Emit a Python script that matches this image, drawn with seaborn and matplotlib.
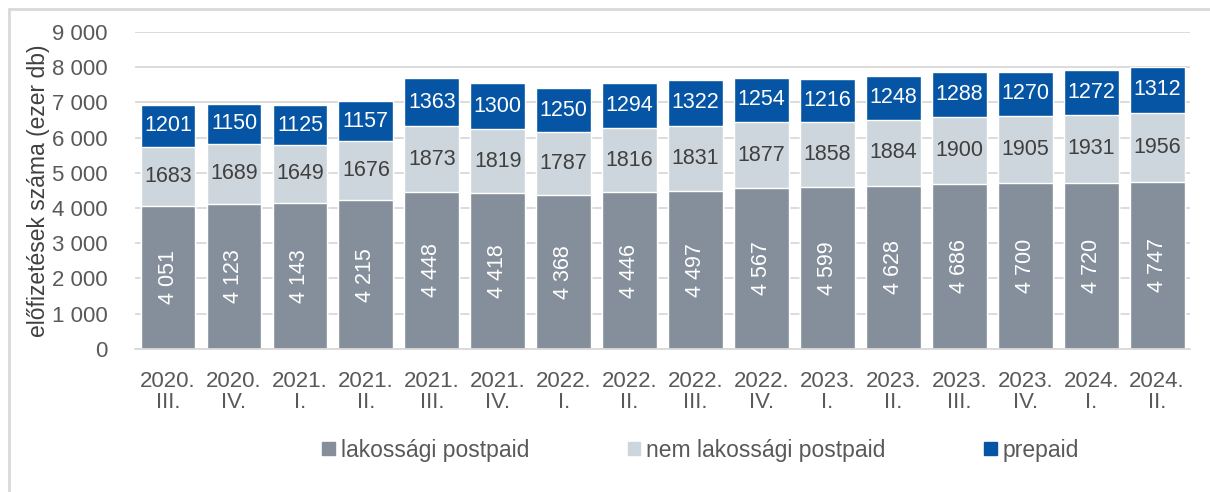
import matplotlib
matplotlib.use("Agg")
import matplotlib.pyplot as plt
import numpy as np
import pandas as pd
import seaborn as sns

# --- data ---
PERIODS = ["2020.\nIII.", "2020.\nIV.", "2021.\nI.", "2021.\nII.", "2021.\nIII.",
           "2021.\nIV.", "2022.\nI.", "2022.\nII.", "2022.\nIII.", "2022.\nIV.",
           "2023.\nI.", "2023.\nII.", "2023.\nIII.", "2023.\nIV.", "2024.\nI.",
           "2024.\nII."]
LAKOSSAGI = [4051, 4123, 4143, 4215, 4448, 4418, 4368, 4446, 4497, 4567,
             4599, 4628, 4686, 4700, 4720, 4747]
NEM_LAKOSSAGI = [1683, 1689, 1649, 1676, 1873, 1819, 1787, 1816, 1831, 1877,
                 1858, 1884, 1900, 1905, 1931, 1956]
PREPAID = [1201, 1150, 1125, 1157, 1363, 1300, 1250, 1294, 1322, 1254,
           1216, 1248, 1288, 1270, 1272, 1312]
SERIES = ["lakossági postpaid", "nem lakossági postpaid", "prepaid"]
Y_TICKS = [0, 1000, 2000, 3000, 4000, 5000, 6000, 7000, 8000, 9000]

C_DARK = "#848F9B"
C_LIGHT = "#CDD6DC"
C_BLUE = "#0555A4"
TXT = "#595959"
FS = 15.5

sns.set_style("white")
plt.rcParams["font.family"] = ["Liberation Sans", "DejaVu Sans"]

df = pd.DataFrame({
    "period": PERIODS,
    "lak": LAKOSSAGI,
    "nem": NEM_LAKOSSAGI,
    "pre": PREPAID,
})
df["post"] = df["lak"] + df["nem"]
df["total"] = df["post"] + df["pre"]

fig = plt.figure(figsize=(12.1, 4.92), dpi=100)
ax = fig.add_axes([0.1116, 0.291, 0.872, 0.644])

# layered bars give the stacked look
for col, color in [("total", C_BLUE), ("post", C_LIGHT), ("lak", C_DARK)]:
    sns.barplot(data=df, x="period", y=col, color=color, width=0.83,
                saturation=1, ax=ax, zorder=2)

for i, row in df.iterrows():
    ax.text(i, row["post"] + row["pre"] / 2, f"{row['pre']}", ha="center",
            va="center", color="white", fontsize=FS)
    ax.text(i, row["lak"] + row["nem"] / 2, f"{row['nem']}", ha="center",
            va="center", color="#404040", fontsize=FS)
    ax.text(i, row["lak"] / 2, f"{row['lak']:,}".replace(",", " "),
            ha="center", va="center", color="white", fontsize=FS,
            rotation=90)

ax.set_ylim(0, 9000)
ax.set_xlim(-0.5, len(PERIODS) - 0.5)
ax.set_yticks(Y_TICKS)
ax.set_yticklabels([f"{v:,}".replace(",", " ") for v in Y_TICKS])
ax.yaxis.grid(True, color="#D9D9D9", linewidth=1.3, zorder=0)
ax.set_axisbelow(True)
for s in ["top", "right", "left"]:
    ax.spines[s].set_visible(False)
ax.spines["bottom"].set_color("#D9D9D9")
ax.spines["bottom"].set_linewidth(1.3)
ax.tick_params(axis="y", length=0, labelsize=16, labelcolor=TXT, pad=20)
ax.tick_params(axis="x", length=0, labelsize=16, labelcolor=TXT, pad=16)
for t in ax.get_xticklabels():
    t.set_linespacing(1.0)
ax.set_xlabel("")
ax.set_ylabel("előfizetések száma (ezer db)", fontsize=16.5, color="#404040",
              labelpad=1)

handles = [plt.Rectangle((0, 0), 1, 1, color=c) for c in (C_DARK, C_LIGHT, C_BLUE)]
fig.legend(handles, SERIES, loc="center", bbox_to_anchor=(0.579, 0.085),
           ncol=3, frameon=False, fontsize=16.5, labelcolor=TXT,
           handlelength=0.55, handleheight=0.55, handletextpad=0.25,
           columnspacing=4.3)

# light frame on top and left
fig.add_artist(plt.Line2D([0.0075, 0.0075], [0, 0.982], color="#D9D9D9",
                          linewidth=2, transform=fig.transFigure))
fig.add_artist(plt.Line2D([0.0075, 1], [0.982, 0.982], color="#D9D9D9",
                          linewidth=2, transform=fig.transFigure))

fig.savefig("out.png", dpi=100)
